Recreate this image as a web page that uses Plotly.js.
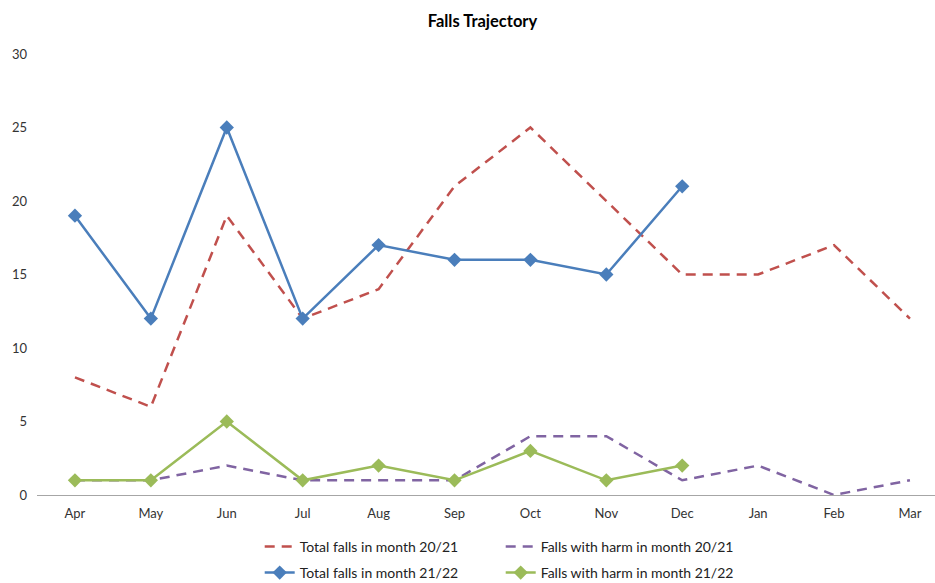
<!DOCTYPE html>
<html>
<head>
<meta charset="utf-8">
<script src="https://cdn.plot.ly/plotly-3.0.1.min.js"></script>
<style>html,body{margin:0;padding:0;background:#fff;}#chart{width:935px;height:583px;}</style>
</head>
<body>
<div id="chart"></div>
<script>
// Months of the reporting year (April to March)
const months = ['Apr', 'May', 'Jun', 'Jul', 'Aug', 'Sep', 'Oct', 'Nov', 'Dec', 'Jan', 'Feb', 'Mar'];

// 2020/21 monthly counts
const totalFalls2021 = [8, 6, 19, 12, 14, 21, 25, 20, 15, 15, 17, 12];
const harmFalls2021 = [1, 1, 2, 1, 1, 1, 4, 4, 1, 2, 0, 1];

// 2021/22 monthly counts (April to December so far)
const totalFalls2122 = [19, 12, 25, 12, 17, 16, 16, 15, 21];
const harmFalls2122 = [1, 1, 5, 1, 2, 1, 3, 1, 2];

const seriesNames = [
  'Total falls in month 20/21',
  'Falls with harm in month 20/21',
  'Total falls in month 21/22',
  'Falls with harm in month 21/22'
];

const yTicks = [0, 5, 10, 15, 20, 25, 30];

const dashPattern = '10px,7px';

const traces = [
  {
    x: months, y: totalFalls2021, name: seriesNames[0], type: 'scatter', mode: 'lines',
    line: {color: '#C0504D', width: 2.5, dash: dashPattern}, legend: 'legend'
  },
  {
    x: months, y: harmFalls2021, name: seriesNames[1], type: 'scatter', mode: 'lines',
    line: {color: '#8064A2', width: 2.5, dash: dashPattern}, legend: 'legend'
  },
  {
    x: months.slice(0, totalFalls2122.length), y: totalFalls2122, name: seriesNames[2],
    type: 'scatter', mode: 'lines+markers',
    line: {color: '#4A7EBB', width: 2.5},
    marker: {symbol: 'diamond', size: 11, color: '#4A7EBB'}, legend: 'legend2'
  },
  {
    x: months.slice(0, harmFalls2122.length), y: harmFalls2122, name: seriesNames[3],
    type: 'scatter', mode: 'lines+markers',
    line: {color: '#9BBB59', width: 2.5},
    marker: {symbol: 'diamond', size: 11, color: '#9BBB59'}, legend: 'legend2'
  }
];

const legendFont = {family: 'Lato, "Liberation Sans", sans-serif', size: 14, color: '#222'};

const layout = {
  width: 935, height: 583,
  paper_bgcolor: '#fff', plot_bgcolor: '#fff',
  margin: {l: 37, r: 0, t: 54, b: 88, autoexpand: false},
  title: {
    text: '<b>Falls Trajectory</b>',
    x: 0.516, xanchor: 'center', y: 0.963, yanchor: 'middle',
    font: {family: 'Lato, "Liberation Sans", sans-serif', size: 16.5, color: '#000'}
  },
  showlegend: true,
  legend: {
    orientation: 'h', x: 0.248, xanchor: 'left', y: -0.0816, yanchor: 'top',
    entrywidth: 196, entrywidthmode: 'pixels', font: legendFont,
    bgcolor: 'rgba(0,0,0,0)', traceorder: 'normal'
  },
  legend2: {
    orientation: 'h', x: 0.248, xanchor: 'left', y: -0.1406, yanchor: 'top',
    entrywidth: 196, entrywidthmode: 'pixels', font: legendFont,
    bgcolor: 'rgba(0,0,0,0)', traceorder: 'normal'
  },
  xaxis: {
    type: 'category', categoryorder: 'array', categoryarray: months,
    range: [-0.5, 11.33], showgrid: false, zeroline: false,
    showline: true, linecolor: '#A6A6A6', linewidth: 1,
    ticks: '', ticklabelstandoff: 6,
    tickfont: {family: 'Lato, "Liberation Sans", sans-serif', size: 13, color: '#333'}
  },
  yaxis: {
    range: [0, 30], tickvals: yTicks, ticktext: yTicks.map(String),
    showgrid: false, zeroline: false, showline: false, ticks: '',
    ticklabelstandoff: 9,
    tickfont: {family: 'Lato, "Liberation Sans", sans-serif', size: 13, color: '#333'}
  }
};

Plotly.newPlot('chart', traces, layout, {displayModeBar: false, staticPlot: true});
</script>
</body>
</html>
